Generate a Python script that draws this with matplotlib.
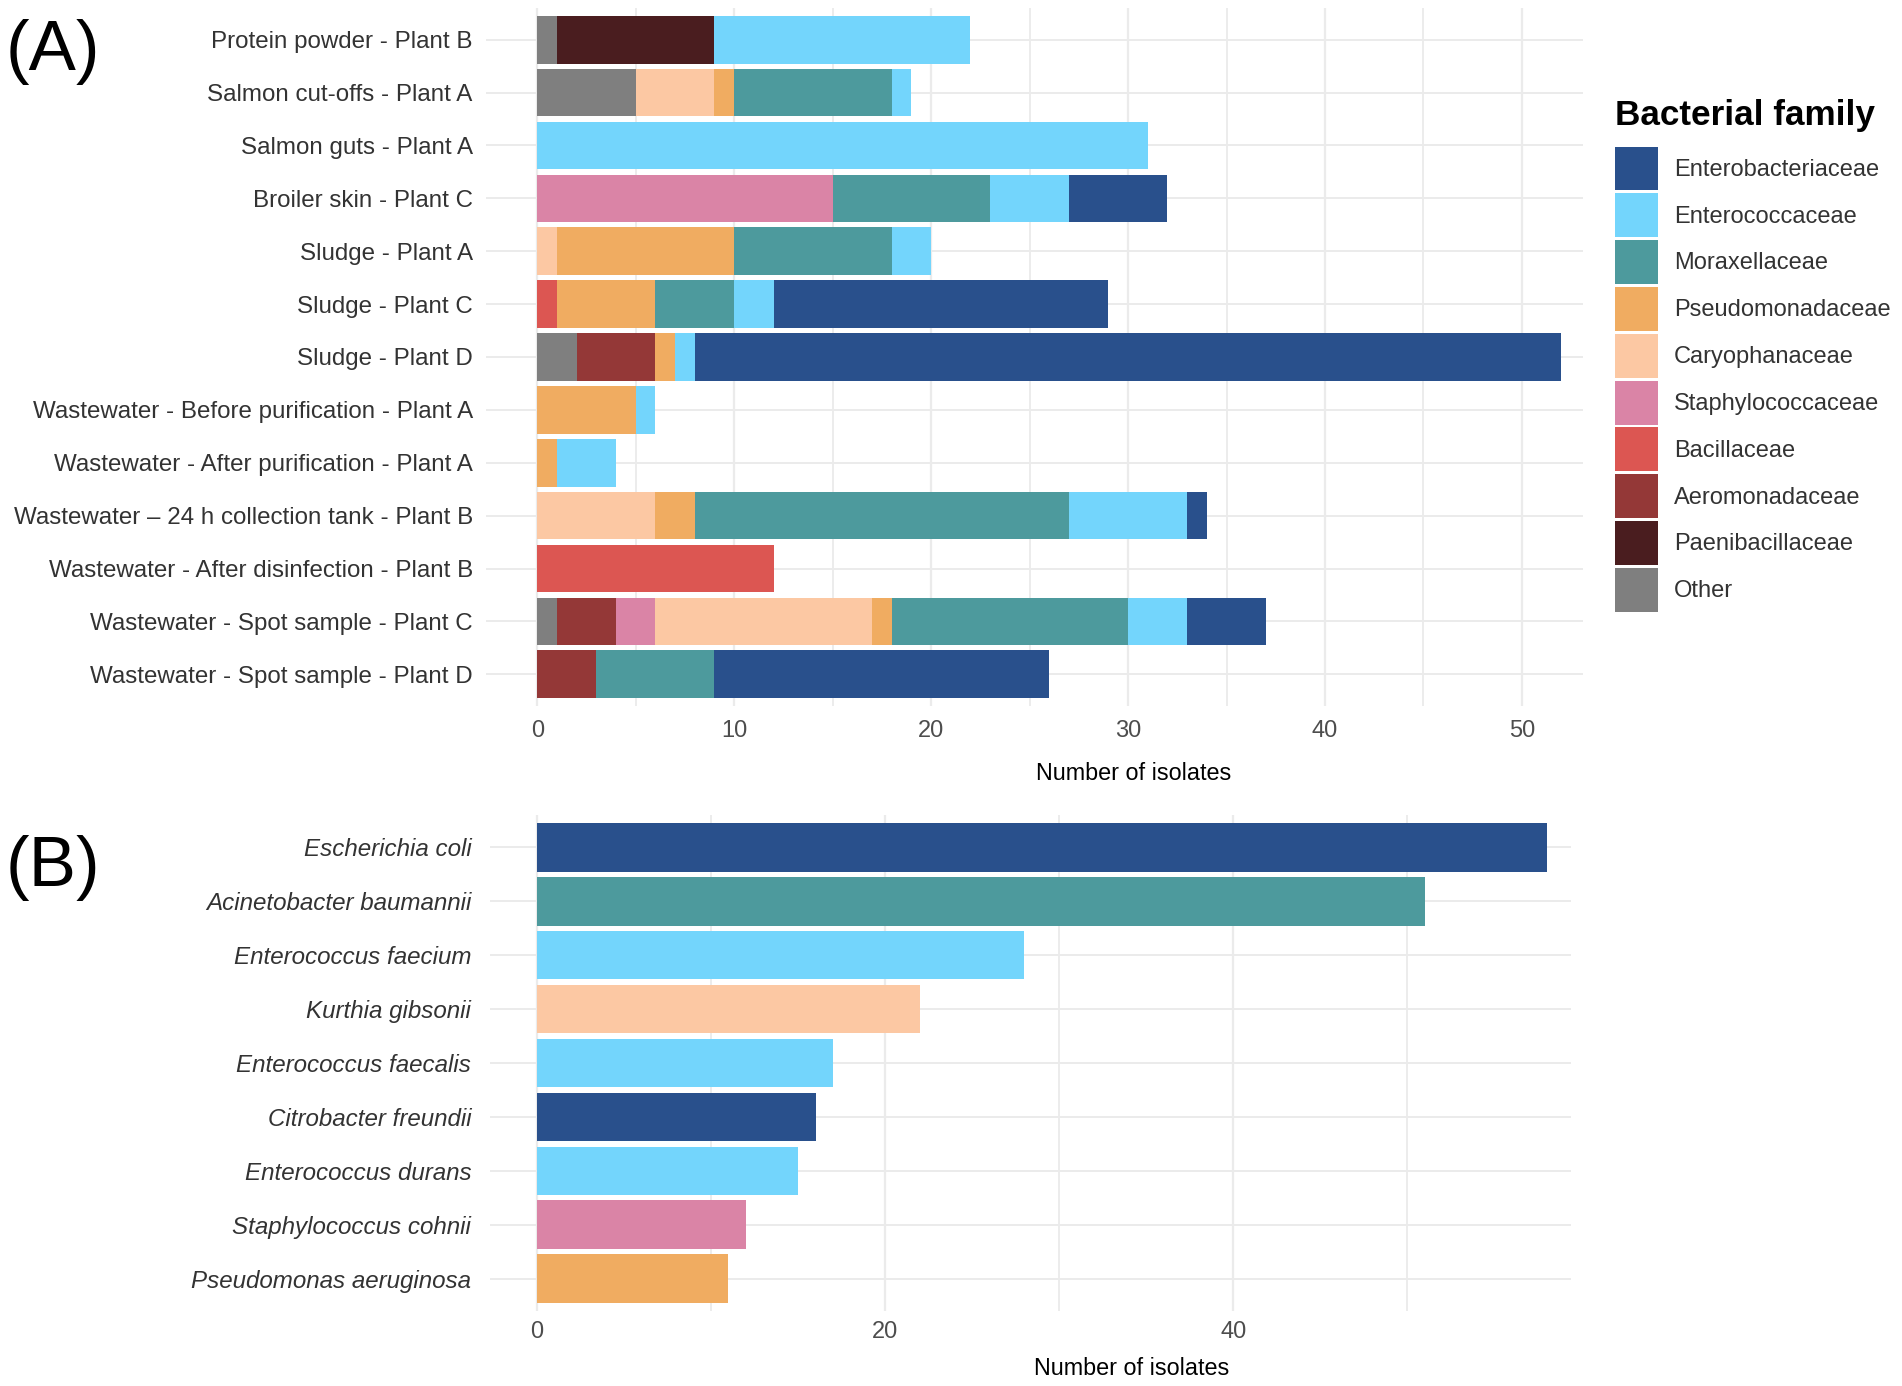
import matplotlib
matplotlib.use("Agg")
import matplotlib.pyplot as plt
from matplotlib.patches import Patch
import numpy as np

plt.rcParams['font.family'] = ['Liberation Sans', 'DejaVu Sans']

# ---------------- Data ----------------
samples = [
    "Protein powder - Plant B",
    "Salmon cut-offs - Plant A",
    "Salmon guts - Plant A",
    "Broiler skin - Plant C",
    "Sludge - Plant A",
    "Sludge - Plant C",
    "Sludge - Plant D",
    "Wastewater - Before purification - Plant A",
    "Wastewater - After purification - Plant A",
    "Wastewater \u2013 24 h collection tank - Plant B",
    "Wastewater - After disinfection - Plant B",
    "Wastewater - Spot sample - Plant C",
    "Wastewater - Spot sample - Plant D",
]

families = ["Enterobacteriaceae", "Enterococcaceae", "Moraxellaceae", "Pseudomonadaceae",
            "Caryophanaceae", "Staphylococcaceae", "Bacillaceae", "Aeromonadaceae",
            "Paenibacillaceae", "Other"]

enterobacteriaceae = [0, 0, 0, 5, 0, 17, 44, 0, 0, 1, 0, 4, 17]
enterococcaceae    = [13, 1, 31, 4, 2, 2, 1, 1, 3, 6, 0, 3, 0]
moraxellaceae      = [0, 8, 0, 8, 8, 4, 0, 0, 0, 19, 0, 12, 6]
pseudomonadaceae   = [0, 1, 0, 0, 9, 5, 1, 5, 1, 2, 0, 1, 0]
caryophanaceae     = [0, 4, 0, 0, 1, 0, 0, 0, 0, 6, 0, 11, 0]
staphylococcaceae  = [0, 0, 0, 15, 0, 0, 0, 0, 0, 0, 0, 2, 0]
bacillaceae        = [0, 0, 0, 0, 0, 1, 0, 0, 0, 0, 12, 0, 0]
aeromonadaceae     = [0, 0, 0, 0, 0, 0, 4, 0, 0, 0, 0, 3, 3]
paenibacillaceae   = [8, 0, 0, 0, 0, 0, 0, 0, 0, 0, 0, 0, 0]
other              = [1, 5, 0, 0, 0, 0, 2, 0, 0, 0, 0, 1, 0]

family_counts = [enterobacteriaceae, enterococcaceae, moraxellaceae, pseudomonadaceae,
                 caryophanaceae, staphylococcaceae, bacillaceae, aeromonadaceae,
                 paenibacillaceae, other]

family_colors = ["#29508C", "#73D5FC", "#4D9A9D", "#F0AC61", "#FCC8A3",
                 "#DA84A6", "#DC5652", "#943837", "#4A1D1F", "#7F7F7F"]

species = ["Escherichia coli", "Acinetobacter baumannii", "Enterococcus faecium",
           "Kurthia gibsonii", "Enterococcus faecalis", "Citrobacter freundii",
           "Enterococcus durans", "Staphylococcus cohnii", "Pseudomonas aeruginosa"]
species_counts = [58, 51, 28, 22, 17, 16, 15, 12, 11]
species_family = ["Enterobacteriaceae", "Moraxellaceae", "Enterococcaceae", "Caryophanaceae",
                  "Enterococcaceae", "Enterobacteriaceae", "Enterococcaceae",
                  "Staphylococcaceae", "Pseudomonadaceae"]

# ---------------- Figure ----------------
W, H = 1902, 1386
fig = plt.figure(figsize=(W / 100, H / 100), dpi=100)
fig.patch.set_facecolor("white")

def axes_px(left, top, right, bottom):
    return fig.add_axes([left / W, 1 - bottom / H, (right - left) / W, (bottom - top) / H])

GRID = "#EBEBEB"
TXT = "#333333"
FS = 17

def style(ax):
    for s in ax.spines.values():
        s.set_visible(False)
    ax.set_axisbelow(True)
    ax.grid(True, which="major", axis="y", color=GRID, lw=1.4)
    ax.grid(True, which="major", axis="x", color=GRID, lw=1.6)
    ax.grid(True, which="minor", axis="x", color=GRID, lw=1.3)
    ax.tick_params(which="both", length=0)
    ax.tick_params(axis="x", labelsize=FS, labelcolor="#4D4D4D")
    ax.tick_params(axis="y", labelsize=17.4, labelcolor=TXT)

# Panel A
axA = axes_px(486, 8, 1583, 706)
style(axA)
ypos = np.arange(len(samples))
left = np.zeros(len(samples))
# stack from "Other" (leftmost) to "Enterobacteriaceae" (rightmost)
for fam, counts, col in reversed(list(zip(families, family_counts, family_colors))):
    vals = np.array(counts, dtype=float)
    axA.barh(ypos, vals, left=left, height=0.9, color=col, linewidth=0)
    left += vals
axA.set_yticks(ypos)
axA.set_yticklabels(samples)
axA.set_ylim(len(samples) - 0.4, -0.6)
axA.set_xlim(-2.6, 53.1)
axA.set_xticks([0, 10, 20, 30, 40, 50])
axA.set_xticks([5, 15, 25, 35, 45], minor=True)
axA.tick_params(axis="y", pad=9.5)
axA.tick_params(axis="x", pad=10)
axA.set_xlabel("Number of isolates", fontsize=16.8, color="black")
axA.xaxis.set_label_coords(0.59, -0.096)
axA.xaxis.label.set_va("center")

# Panel B
axB = axes_px(490, 815, 1571, 1311)
style(axB)
ypos_b = np.arange(len(species))
col_map = dict(zip(families, family_colors))
axB.barh(ypos_b, species_counts, height=0.9,
         color=[col_map[f] for f in species_family], linewidth=0)
axB.set_yticks(ypos_b)
axB.set_yticklabels(species, style="italic")
axB.set_ylim(len(species) - 0.4, -0.6)
axB.set_xlim(-2.7, 59.4)
axB.set_xticks([0, 20, 40])
axB.set_xticks([10, 30, 50], minor=True)
axB.tick_params(axis="y", pad=13.5)
axB.tick_params(axis="x", pad=7)
axB.set_xlabel("Number of isolates", fontsize=16.8, color="black")
axB.xaxis.set_label_coords(0.594, -0.115)
axB.xaxis.label.set_va("center")

# Legend
handles = [Patch(facecolor=c, edgecolor="none") for c in family_colors]
leg = fig.legend(handles, families, loc="upper left",
                 bbox_to_anchor=(1615 / W, 1 - 146.5 / H), frameon=False,
                 fontsize=FS,
                 handlelength=1.82, handleheight=2.49, labelspacing=0.12,
                 handletextpad=0.68, borderpad=0, borderaxespad=0)
for t in leg.get_texts():
    t.set_color(TXT)
fig.text(1615 / W, 1 - 115.5 / H, "Bacterial family", fontsize=25.3, fontweight="bold",
         ha="left", va="center", color="black")

# Panel tags
fig.text(53 / W, 1 - 52 / H, "(A)", fontsize=51, ha="center", va="center", color="black")
fig.text(53 / W, 1 - 868 / H, "(B)", fontsize=51, ha="center", va="center", color="black")

fig.savefig("out.png", dpi=100, facecolor="white")
